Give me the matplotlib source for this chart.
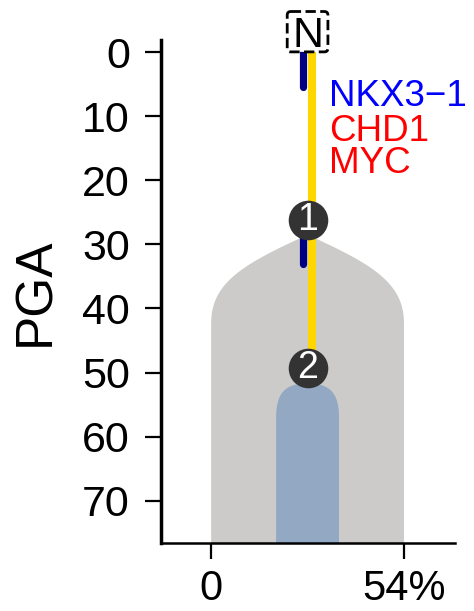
import matplotlib
matplotlib.use("Agg")
import matplotlib.pyplot as plt
from matplotlib.patches import FancyBboxPatch
import numpy as np

plt.rcParams['font.family'] = ['Liberation Sans', 'DejaVu Sans']

# clones: where they start (PGA), their width (% of cells), centre on x
clone_ids = ["1", "2"]
clone_start = [28.5, 51.7]
clone_width = [54.0, 17.6]
clone_center = 27.0
clone_colors = ["#cccbca", "#93a8c3"]

# nodes (numbered circles) on the trunk
node_pga = [26.2, 49.3]

# mutation tracks along the trunk
yellow_track = [0.0, 49.3]
navy_tracks = [[0.0, 5.4], [26.2, 33.0]]

# gene labels
genes = ["NKX3\u22121", "CHD1", "MYC"]
gene_colors = ["#0000ff", "#ff0000", "#ff0000"]
gene_pga = [8.4, 13.9, 18.9]

yticks = [0, 10, 20, 30, 40, 50, 60, 70]
xticks = [0, 54]
xticklabels = ["0", "54%"]


def bezier(p0, p1, p2, p3, n=60):
    t = np.linspace(0, 1, n)[:, None]
    return ((1 - t) ** 3) * p0 + 3 * ((1 - t) ** 2) * t * p1 + 3 * (1 - t) * t ** 2 * p2 + t ** 3 * p3


def clone_outline(y0, width, shoulder, ybottom=80):
    # half outline from apex down the left side, mirrored to the right
    a = width / 2.0
    h, f1x, f1y, f2y = shoulder
    p0 = np.array([clone_center, y0])
    p1 = np.array([clone_center - f1x * a, y0 + f1y * h])
    p2 = np.array([clone_center - a, y0 + f2y * h])
    p3 = np.array([clone_center - a, y0 + h])
    left = bezier(p0, p1, p2, p3)
    left = np.vstack([left, [clone_center - a, ybottom]])
    right = left[::-1].copy()
    right[:, 0] = 2 * clone_center - right[:, 0]
    return np.vstack([left, right])


shoulders = [(13.8, 0.667, 0.33, 0.54), (5.3, 0.68, 0.0, 0.25)]

fig = plt.figure(figsize=(4.74, 6.11), dpi=100)
ax = fig.add_axes([0.340, 0.1113, 0.620, 0.8232])

for y0, w, sh, c in zip(clone_start, clone_width, shoulders, clone_colors):
    pts = clone_outline(y0, w, sh)
    ax.fill(pts[:, 0], pts[:, 1], color=c, lw=0, zorder=1)

off = 1.25
ax.plot([clone_center + off] * 2, yellow_track, color="#ffd700", lw=5.8,
        solid_capstyle="butt", zorder=3)
for seg in navy_tracks:
    ax.plot([clone_center - off] * 2, seg, color="#000080", lw=5.2,
            solid_capstyle="round", zorder=3)

for nid, y in zip(clone_ids, node_pga):
    ax.plot(clone_center, y, "o", ms=28.5, color="#333333", mec="none", zorder=5)
    ax.text(clone_center, y, nid, color="white", fontsize=27, ha="center",
            va="center", zorder=6)

# normal (root) node: dashed box with N
bw, bh = 11.4, 6.3
box = FancyBboxPatch((clone_center - bw / 2, -3.2 - bh / 2), bw, bh,
                     boxstyle="round,pad=0,rounding_size=1.0",
                     mutation_aspect=bh / bw, fc="white", ec="black",
                     ls="--", lw=2, zorder=7, clip_on=False)
ax.add_patch(box)
ax.text(clone_center, -3.2, "N", fontsize=31, ha="center", va="center_baseline",
        zorder=8, clip_on=False)

for g, c, y in zip(genes, gene_colors, gene_pga):
    ax.text(33.0, y, g, color=c, fontsize=26.5, ha="left", va="baseline",
            zorder=4, clip_on=False)

ax.set_xlim(-14, 68.3)
ax.set_ylim(76.6, -1.9)
ax.set_yticks(yticks)
ax.set_xticks(xticks)
ax.set_xticklabels(xticklabels)
ax.tick_params(labelsize=31, length=11.5, width=1.6, pad=11)
ax.tick_params(axis='x', labelsize=30, pad=7)
ax.spines['top'].set_visible(False)
ax.spines['right'].set_visible(False)
ax.spines['left'].set_linewidth(2.5)
ax.spines['bottom'].set_linewidth(1.8)
ax.set_ylabel("PGA", fontsize=37)
ax.yaxis.set_label_coords(-0.345, 0.5)

fig.savefig("out.png", dpi=100)
